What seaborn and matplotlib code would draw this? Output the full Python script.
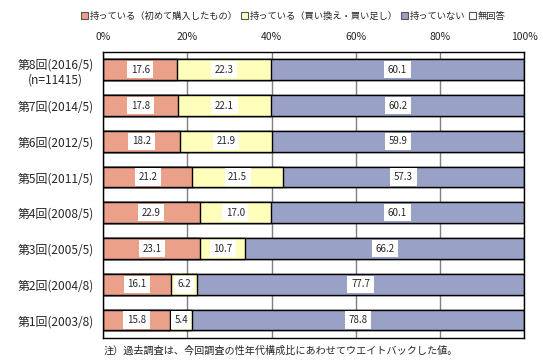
import matplotlib
matplotlib.use('Agg')
import matplotlib.pyplot as plt
import seaborn as sns
import pandas as pd
import numpy as np
from matplotlib.patches import Patch

sns.set_style('white')
plt.rcParams['font.family'] = ['Noto Sans CJK JP', 'DejaVu Sans']

rounds = ['第8回(2016/5)\n(n=11415)', '第7回(2014/5)', '第6回(2012/5)', '第5回(2011/5)',
          '第4回(2008/5)', '第3回(2005/5)', '第2回(2004/8)', '第1回(2003/8)']
first_buy = [17.6, 17.8, 18.2, 21.2, 22.9, 23.1, 16.1, 15.8]
rebuy = [22.3, 22.1, 21.9, 21.5, 17.0, 10.7, 6.2, 5.4]
not_have = [60.1, 60.2, 59.9, 57.3, 60.1, 66.2, 77.7, 78.8]
no_answer = [0, 0, 0, 0, 0, 0, 0, 0]

series_names = ['持っている（初めて購入したもの）', '持っている（買い換え・買い足し）', '持っていない', '無回答']
colors = ['#eba08a', '#ffffbb', '#99a1c6', '#ffffff']

df = pd.DataFrame({'回': rounds, 'a': first_buy, 'b': rebuy, 'c': not_have, 'd': no_answer})
df['c1'] = df['a']
df['c2'] = df['a'] + df['b']
df['c3'] = df['c2'] + df['c']
df['c4'] = df['c3'] + df['d']

fig = plt.figure(figsize=(5.43, 3.63), dpi=100)
ax = fig.add_axes([0.19, 0.069, 0.775, 0.788])

for col, color in zip(['c4', 'c3', 'c2', 'c1'], ['#ffffff', colors[2], colors[1], colors[0]]):
    sns.barplot(data=df, y='回', x=col, order=rounds, color=color, orient='h',
                width=0.58, edgecolor='black', linewidth=1.0, saturation=1, ax=ax)

# segment value labels
for i, row in df.iterrows():
    starts = [0, row['c1'], row['c2']]
    for s, v in zip(starts, [row['a'], row['b'], row['c']]):
        ax.text(s + v / 2, i, f'{v:.1f}', ha='center', va='center', fontsize=7,
                bbox=dict(facecolor='white', edgecolor='none', pad=2.6))

ax.set_xlim(0, 100)
ax.set_ylim(7.5, -0.5)
ax.set_xticks([0, 20, 40, 60, 80, 100])
ax.set_xticklabels(['0%', '20%', '40%', '60%', '80%', '100%'], fontsize=7.5)
ax.xaxis.tick_top()
ax.tick_params(axis='both', length=0, pad=7)
ax.tick_params(axis='y', labelsize=8.6, pad=7)
for lab in ax.get_yticklabels():
    lab.set_multialignment('center')
ax.set_xlabel('')
ax.set_ylabel('')
ax.xaxis.grid(True, color='#808080', linewidth=1.0)
ax.set_axisbelow(True)
for sp in ax.spines.values():
    sp.set_color('black')
    sp.set_linewidth(1.0)

handles = [Patch(facecolor=c, edgecolor='#555555', linewidth=0.8) for c in colors]
fig.legend(handles, series_names, loc='center', bbox_to_anchor=(0.54, 0.955), ncol=4,
           frameon=False, fontsize=6.7, handlelength=0.7, handleheight=0.7,
           handletextpad=0.2, columnspacing=0.4)

fig.text(0.19, 0.035, '注）過去調査は、今回調査の性年代構成比にあわせてウエイトバックした値。',
         fontsize=7.3, ha='left', va='center')

fig.savefig('out.png', dpi=100)
